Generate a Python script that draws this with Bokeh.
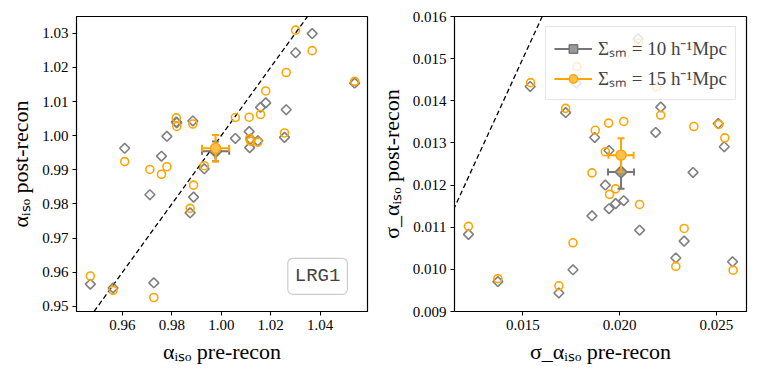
import numpy as np
from bokeh.plotting import figure
from bokeh.models import (Range1d, FixedTicker, PrintfTickFormatter, Legend,
                          LegendItem, Label, Slope)
from bokeh.layouts import row
from bokeh.embed import file_html
from bokeh.resources import INLINE

# ---------------- data: left panel (alpha_iso) ----------------
alpha_pre = [1.0301, 1.0368, 1.0540, 1.0263, 1.0180, 1.0159, 1.0113, 1.0057,
             0.9818, 0.9820, 0.9885, 1.0256, 1.0115, 1.0119, 1.0148, 0.9609,
             0.9711, 0.9780, 0.9758, 0.9931, 0.9888, 0.9874, 0.9470, 0.9562,
             0.9727]
alpha_post_10 = [1.0243, 1.0299, 1.0154, 1.0076, 1.0096, 1.0083, 1.0012, 0.9992,
                 1.0040, 1.0038, 1.0043, 0.9995, 0.9965, 0.9990, 0.9985, 0.9963,
                 0.9827, 0.9998, 0.9940, 0.9903, 0.9820, 0.9774, 0.9565, 0.9554,
                 0.9569]
alpha_post_15 = [1.0309, 1.0249, 1.0159, 1.0185, 1.0131, 1.0062, 1.0054, 1.0053,
                 1.0052, 1.0027, 1.0034, 1.0008, 0.9991, 0.9984, 0.9981, 0.9924,
                 0.9901, 0.9909, 0.9887, 0.9912, 0.9855, 0.9787, 0.9589, 0.9547,
                 0.9526]
alpha_mean_pre = [0.9977, 0.9977]          # [10, 15]
alpha_mean_post = [0.9954, 0.9963]
alpha_err_pre = [0.0055, 0.0055]
alpha_err_post = [0.0029, 0.0039]

# ---------------- data: right panel (sigma) ----------------
sig_pre_10 = [0.01538, 0.01776, 0.01721, 0.01871, 0.01945, 0.02095, 0.02212, 0.02186,
              0.02509, 0.02540, 0.02379, 0.01926, 0.01945, 0.01979, 0.02021, 0.01857,
              0.02103, 0.01219, 0.01371, 0.01759, 0.01686, 0.02290, 0.02333, 0.02583]
sig_post_10 = [0.01434, 0.01442, 0.01372, 0.01313, 0.01282, 0.01547, 0.01385, 0.01325,
               0.01346, 0.01291, 0.01230, 0.01200, 0.01144, 0.01156, 0.01163, 0.01127,
               0.01093, 0.01083, 0.00971, 0.00999, 0.00944, 0.01027, 0.01067, 0.01018]
sig_pre_15 = [0.01540, 0.01779, 0.01721, 0.01874, 0.01943, 0.02021, 0.02098, 0.02190,
              0.02212, 0.02383, 0.02512, 0.02543, 0.01926, 0.01857, 0.01979, 0.01948,
              0.02103, 0.01219, 0.01371, 0.01759, 0.01686, 0.02290, 0.02333, 0.02586]
sig_post_15 = [0.01443, 0.01481, 0.01382, 0.01330, 0.01347, 0.01351, 0.01537, 0.01433,
               0.01366, 0.01339, 0.01344, 0.01312, 0.01279, 0.01229, 0.01191, 0.01178,
               0.01154, 0.01102, 0.00978, 0.01063, 0.00961, 0.01007, 0.01097, 0.00998]
sig_mean_pre = [0.02007, 0.02007]
sig_mean_post = [0.01231, 0.01271]
sig_err_pre = [0.00067, 0.00065]
sig_err_post = [0.00040, 0.00040]

alpha_xticks = [0.96, 0.98, 1.00, 1.02, 1.04]
alpha_yticks = [0.95, 0.96, 0.97, 0.98, 0.99, 1.00, 1.01, 1.02, 1.03]
sig_xticks = [0.015, 0.020, 0.025]
sig_yticks = [0.009, 0.010, 0.011, 0.012, 0.013, 0.014, 0.015, 0.016]

labels = ["Σₛₘ = 10 h⁻¹Mpc", "Σₛₘ = 15 h⁻¹Mpc"]

GRAY = "#808080"
ORANGE = "#FFA500"
SERIF = "Liberation Serif"


def style(p, xt, yt, xfmt, yfmt, xlabel, ylabel):
    for ax in (p.xaxis[0], p.yaxis[0]):
        ax.major_tick_out = 4
        ax.major_tick_in = 0
        ax.minor_tick_line_color = None
        ax.axis_line_color = "black"
        ax.major_tick_line_color = "black"
        ax.major_label_text_font = SERIF
        ax.major_label_text_font_size = "15px"
        ax.major_label_text_color = "black"
        ax.axis_label_text_font = SERIF
        ax.axis_label_text_font_size = "22px"
        ax.axis_label_text_font_style = "normal"
        ax.axis_label_text_color = "black"
        ax.major_label_standoff = 4
        ax.axis_label_standoff = 6
    p.xaxis[0].ticker = FixedTicker(ticks=xt)
    p.yaxis[0].ticker = FixedTicker(ticks=yt)
    p.xaxis[0].formatter = PrintfTickFormatter(format=xfmt)
    p.yaxis[0].formatter = PrintfTickFormatter(format=yfmt)
    p.xaxis[0].axis_label = xlabel
    p.yaxis[0].axis_label = ylabel
    p.xgrid.grid_line_color = None
    p.ygrid.grid_line_color = None
    p.outline_line_color = "black"
    p.outline_line_width = 1.2
    p.background_fill_color = "white"
    p.border_fill_color = "white"
    slope = Slope(gradient=1, y_intercept=0, line_color="black",
                  line_dash="5 3", line_width=1.3, level="underlay")
    p.add_layout(slope)


def mean_marks(p, mx, my, ex, ey, color, marker, size, angle, fill):
    hs = p.segment(x0=[mx - ex], y0=[my], x1=[mx + ex], y1=[my],
                   line_color=color, line_width=2)
    p.segment(x0=[mx], y0=[my - ey], x1=[mx], y1=[my + ey],
              line_color=color, line_width=2)
    p.scatter(x=[mx - ex, mx + ex], y=[my, my], marker="dash", angle=np.pi / 2,
              size=7, line_color=color, line_width=2)
    p.scatter(x=[mx, mx], y=[my - ey, my + ey], marker="dash",
              size=7, line_color=color, line_width=2)
    m = p.scatter(x=[mx], y=[my], marker=marker, size=size, angle=angle,
                  fill_color=fill, line_color=color, line_width=1.5)
    return hs, m


def points(p, x, y, color, marker, size, angle):
    return p.scatter(x=x, y=y, marker=marker, size=size, angle=angle,
                     fill_color=None, line_color=color, line_width=1.6)


# ---------------- left figure ----------------
p1 = figure(frame_width=291, frame_height=295,
            x_range=Range1d(0.9414, 1.0592), y_range=Range1d(0.9485, 1.0349),
            output_backend="svg", toolbar_location=None,
            min_border_left=76, min_border_right=2, min_border_top=16,
            min_border_bottom=56)
style(p1, alpha_xticks, alpha_yticks, "%.2f", "%.2f",
      "αᵢₛₒ pre-recon", "αᵢₛₒ post-recon")
points(p1, alpha_pre, alpha_post_10, GRAY, "square", 7, np.pi / 4)
points(p1, alpha_pre, alpha_post_15, ORANGE, "circle", 8, 0)
mean_marks(p1, alpha_mean_pre[0], alpha_mean_post[0], alpha_err_pre[0],
           alpha_err_post[0], "#777777", "square", 8.5, np.pi / 4, "#9a9a9a")
mean_marks(p1, alpha_mean_pre[1], alpha_mean_post[1], alpha_err_pre[1],
           alpha_err_post[1], ORANGE, "circle", 10, 0, "#FFC04D")
lab = Label(x=1.039, y=0.9588, text="LRG1", text_font="Liberation Mono",
            text_font_size="19px", text_align="center", text_baseline="middle",
            background_fill_color="white", border_line_color="#cccccc",
            border_line_width=1.2, padding=7, border_radius=5)
p1.add_layout(lab)

# ---------------- right figure ----------------
p2 = figure(frame_width=292, frame_height=295,
            x_range=Range1d(0.01147, 0.02655), y_range=Range1d(0.009, 0.016),
            output_backend="svg", toolbar_location=None,
            min_border_left=85, min_border_right=4, min_border_top=16,
            min_border_bottom=56)
style(p2, sig_xticks, sig_yticks, "%.3f", "%.3f",
      "σ_αᵢₛₒ pre-recon", "σ_αᵢₛₒ post-recon")
points(p2, sig_pre_10, sig_post_10, GRAY, "square", 7, np.pi / 4)
points(p2, sig_pre_15, sig_post_15, ORANGE, "circle", 8, 0)
g_h, g_m = mean_marks(p2, sig_mean_pre[0], sig_mean_post[0], sig_err_pre[0],
                      sig_err_post[0], "#777777", "square", 8.5, np.pi / 4, "#9a9a9a")
o_h, o_m = mean_marks(p2, sig_mean_pre[1], sig_mean_post[1], sig_err_pre[1],
                      sig_err_post[1], ORANGE, "circle", 10, 0, "#FFC04D")

legend = Legend(items=[LegendItem(label=labels[0], renderers=[g_h, g_m]),
                       LegendItem(label=labels[1], renderers=[o_h, o_m])],
                location="top_right", background_fill_color="white",
                background_fill_alpha=0.8, border_line_color="#cccccc",
                border_line_width=1, label_text_font=SERIF,
                label_text_font_size="19px", glyph_width=38, glyph_height=21,
                spacing=4, padding=8, margin=10, label_standoff=6)
p2.add_layout(legend)

layout = row(p1, p2)
open("out.html", "w").write(file_html(layout, INLINE))
